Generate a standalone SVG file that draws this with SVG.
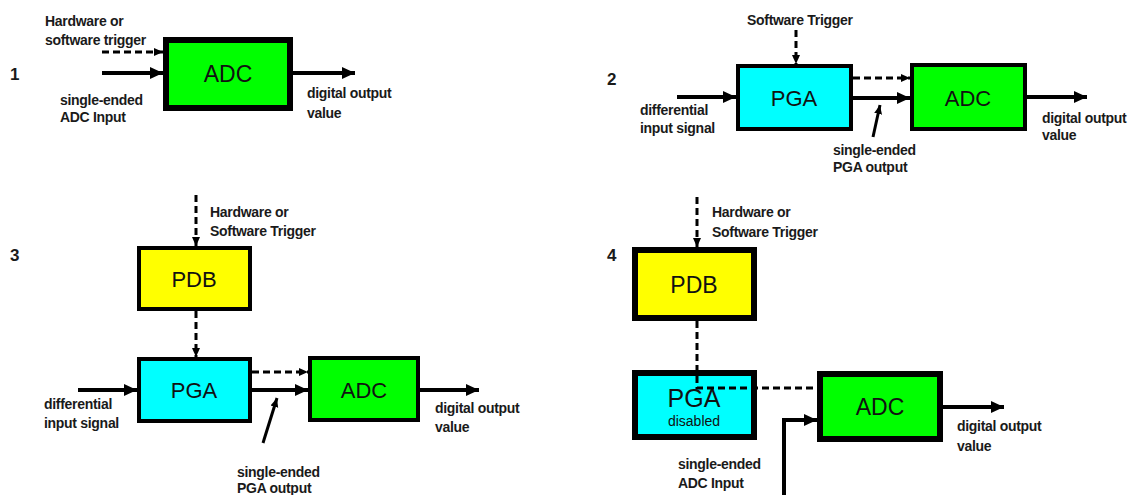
<svg xmlns="http://www.w3.org/2000/svg" width="1132" height="495" viewBox="0 0 1132 495">
<defs>
<style>
.lbl{font-family:"Liberation Sans",Arial,sans-serif;font-size:14px;font-weight:bold;fill:#1a1a1a;letter-spacing:-0.3px}
.num{font-family:"Liberation Sans",Arial,sans-serif;font-size:17px;font-weight:bold;fill:#1a1a1a}
.box{font-family:"Liberation Sans",Arial,sans-serif;fill:#111;text-anchor:middle}
.adc{fill:#00ff00;stroke:#000}
.pga{fill:#00ffff;stroke:#000}
.pdb{fill:#ffff00;stroke:#000}
.sol{fill:none;stroke:#000;stroke-width:4}
.dsh{fill:none;stroke:#000;stroke-width:3;stroke-dasharray:7 4}
</style>
<marker id="ah" markerUnits="userSpaceOnUse" markerWidth="14" markerHeight="14" viewBox="0 0 14 14" refX="13" refY="7" orient="auto">
<path d="M0,1 L13,7 L0,13 Z" fill="#000"/>
</marker>
<marker id="ahs" markerUnits="userSpaceOnUse" markerWidth="10" markerHeight="10" viewBox="0 0 10 10" refX="9" refY="5" orient="auto">
<path d="M0,1 L9,5 L0,9 Z" fill="#000"/>
</marker>
</defs>
<rect width="1132" height="495" fill="#fff"/>

<g id="p1-adc">
<rect class="adc" stroke-width="6" x="166" y="40" width="124" height="68"/>
<text class="box" x="228" y="82" style="font-size:23px">ADC</text>
</g>

<g id="p2-pga">
<rect class="pga" stroke-width="4" x="738" y="66" width="113" height="63"/>
<text class="box" x="794" y="106" style="font-size:22px">PGA</text>
</g>
<g id="p2-adc">
<rect class="adc" stroke-width="4" x="912" y="65" width="113" height="64"/>
<text class="box" x="968" y="106" style="font-size:22px">ADC</text>
</g>

<g id="p3-pdb">
<rect class="pdb" stroke-width="4" x="139" y="248" width="111" height="61"/>
<text class="box" x="194" y="287" style="font-size:22px">PDB</text>
</g>
<g id="p3-pga">
<rect class="pga" stroke-width="4" x="139" y="359" width="111" height="62"/>
<text class="box" x="194" y="398" style="font-size:22px">PGA</text>
</g>
<g id="p3-adc">
<rect class="adc" stroke-width="4" x="310" y="358" width="108" height="62"/>
<text class="box" x="364" y="398" style="font-size:22px">ADC</text>
</g>

<g id="p4-pdb">
<rect class="pdb" stroke-width="6" x="635" y="250" width="119" height="68"/>
<text class="box" x="694" y="293" style="font-size:23px">PDB</text>
</g>
<g id="p4-pga">
<rect class="pga" stroke-width="6" x="635" y="373" width="119" height="64"/>
<text class="box" x="694" y="407" style="font-size:25px">PGA</text>
<text class="box" x="694" y="426" style="font-size:14px">disabled</text>
</g>
<g id="p4-adc">
<rect class="adc" stroke-width="6" x="820" y="374" width="120" height="65"/>
<text class="box" x="880" y="415" style="font-size:23px">ADC</text>
</g>

<g id="connectors">
<!-- panel 1 -->
<line class="dsh" x1="102" y1="52" x2="163" y2="52" marker-end="url(#ahs)"/>
<line class="sol" x1="102" y1="73" x2="163" y2="73" marker-end="url(#ah)"/>
<line class="sol" x1="293" y1="73" x2="355" y2="73" marker-end="url(#ah)"/>
<!-- panel 2 -->
<line class="dsh" x1="796" y1="30" x2="796" y2="64" marker-end="url(#ahs)"/>
<line class="sol" x1="677" y1="97" x2="736" y2="97" marker-end="url(#ah)"/>
<line class="dsh" x1="853" y1="78" x2="910" y2="78" marker-end="url(#ahs)"/>
<line class="sol" x1="853" y1="98" x2="910" y2="98" marker-end="url(#ah)"/>
<line class="sol" x1="1027" y1="97" x2="1087" y2="97" marker-end="url(#ah)"/>
<line class="sol" style="stroke-width:3" x1="873" y1="137" x2="880" y2="105" marker-end="url(#ahs)"/>
<!-- panel 3 -->
<line class="dsh" x1="196" y1="195" x2="196" y2="246" marker-end="url(#ahs)"/>
<line class="dsh" x1="196" y1="311" x2="196" y2="357" marker-end="url(#ahs)"/>
<line class="sol" x1="78" y1="390" x2="137" y2="390" marker-end="url(#ah)"/>
<line class="dsh" x1="252" y1="372" x2="308" y2="372" marker-end="url(#ahs)"/>
<line class="sol" x1="252" y1="390" x2="308" y2="390" marker-end="url(#ah)"/>
<line class="sol" x1="420" y1="390" x2="479" y2="390" marker-end="url(#ah)"/>
<line class="sol" style="stroke-width:3" x1="263" y1="443" x2="277" y2="398" marker-end="url(#ahs)"/>
<!-- panel 4 -->
<line class="dsh" x1="697" y1="197" x2="697" y2="247" marker-end="url(#ahs)"/>
<polyline class="dsh" points="697,321 697,388 817,388"/>
<polyline class="sol" points="784,495 784,420 817,420" marker-end="url(#ah)"/>
<line class="sol" x1="943" y1="407" x2="1004" y2="407" marker-end="url(#ah)"/>
</g>

<g id="labels">
<text class="num" x="10" y="80">1</text>
<text class="lbl" x="45" y="26">Hardware or</text>
<text class="lbl" x="45" y="45">software trigger</text>
<text class="lbl" x="60" y="105">single-ended</text>
<text class="lbl" x="60" y="122">ADC Input</text>
<text class="lbl" x="307" y="98">digital output</text>
<text class="lbl" x="307" y="118">value</text>

<text class="num" x="607" y="85">2</text>
<text class="lbl" x="747" y="25">Software Trigger</text>
<text class="lbl" x="640" y="115">differential</text>
<text class="lbl" x="640" y="133">input signal</text>
<text class="lbl" x="833" y="155">single-ended</text>
<text class="lbl" x="833" y="172">PGA output</text>
<text class="lbl" x="1042" y="123">digital output</text>
<text class="lbl" x="1042" y="140">value</text>

<text class="num" x="10" y="261">3</text>
<text class="lbl" x="210" y="217">Hardware or</text>
<text class="lbl" x="210" y="236">Software Trigger</text>
<text class="lbl" x="44" y="409">differential</text>
<text class="lbl" x="44" y="428">input signal</text>
<text class="lbl" x="435" y="413">digital output</text>
<text class="lbl" x="435" y="432">value</text>
<text class="lbl" x="237" y="477">single-ended</text>
<text class="lbl" x="237" y="493">PGA output</text>

<text class="num" x="607" y="261">4</text>
<text class="lbl" x="712" y="217">Hardware or</text>
<text class="lbl" x="712" y="237">Software Trigger</text>
<text class="lbl" x="678" y="469">single-ended</text>
<text class="lbl" x="678" y="488">ADC Input</text>
<text class="lbl" x="957" y="431">digital output</text>
<text class="lbl" x="957" y="451">value</text>
</g>
</svg>
